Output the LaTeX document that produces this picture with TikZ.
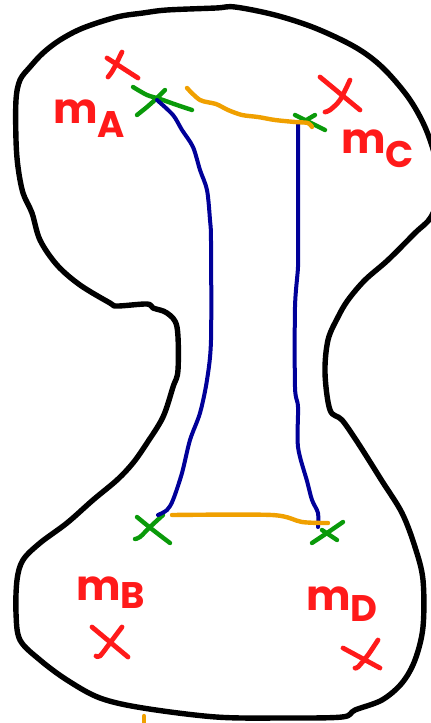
\documentclass[tikz,border=0pt]{standalone}
\usepackage{fontspec}
\usepackage{tikz}
\usetikzlibrary{positioning}
\newfontfamily\handfont{Poppins}
\definecolor{penred}{HTML}{FF1A1A}
\definecolor{pengreen}{HTML}{0A9A0A}
\definecolor{penblue}{HTML}{000099}
\definecolor{penorange}{HTML}{F0A000}
\newcommand{\mlab}[2]{m\raisebox{-#2}{\fontsize{37}{37}\selectfont #1}}

\begin{document}
\begin{tikzpicture}[
  x=1pt, y=-1pt,
  pen/.style={line cap=round, line join=round},
  outline/.style={pen, draw=black, line width=5.4pt},
  mass/.style={pen, draw=penred, line width=4.8pt},
  marker/.style={pen, draw=pengreen, line width=4.4pt},
  geod/.style={pen, draw=penblue, line width=4pt},
  bridge/.style={pen, draw=penorange, line width=4.4pt},
  masslabel/.style={anchor=base west, inner sep=0pt, text=penred, font=\handfont\bfseries\fontsize{42}{42}\selectfont},
]
  \useasboundingbox (0,0) rectangle (431,723);
  \clip (0,0) rectangle (431,723);

  % Outline
  \draw[outline] plot[smooth cycle, tension=0.55] coordinates {
    (143,13) (167,10) (216,8) (235,7) (275,15) (315,28) (355,47) (382,67)
    (408,97) (425,127) (436,160) (440,190) (431,217) (415,233) (388,260)
    (365,280) (348,300) (338,317) (328,340) (325,373) (330,410) (342,420)
    (358,443) (382,481) (402,513) (415,547) (423,580) (423,627) (415,660)
    (402,683) (382,700) (355,710) (342,717) (282,718) (216,717) (143,708)
    (100,698) (67,680) (40,660) (20,640) (16,613) (17,580) (23,560) (40,543)
    (67,523) (93,500) (117,480) (133,463) (147,443) (163,417) (173,387)
    (178,370) (177,327) (167,313) (153,308) (147,304) (117,306) (110,303)
    (80,285) (57,265) (40,240) (32,213) (23,193) (18,167) (16,140) (16,100)
    (20,80) (30,67) (43,53) (60,40) (83,28) (117,17)};
  \draw[bridge] (144,716) -- (144,723);

  % Masses
  \draw[mass] (107,58) -- (138,78);
  \draw[mass] plot[smooth] coordinates {(122,52) (113,70) (108,77)};
  \draw[mass] (320,77) -- (360,110);
  \draw[mass] plot[smooth] coordinates {(350,80) (340,100) (330,110) (325,112)};
  \draw[mass] (92,627) -- (128,657);
  \draw[mass] plot[smooth] coordinates {(122,627) (110,643) (100,656) (96,656)};
  \draw[mass] (343,648) -- (380,668);
  \draw[mass] plot[smooth] coordinates {(378,640) (368,655) (358,667) (355,668)};

  \node[masslabel] (mA) at (53,123) {\mlab{A}{14pt}};
  \node[masslabel] (mC) at (341,153) {\mlab{C}{14pt}};
  \node[masslabel] (mB) at (76,600) {\mlab{B}{8pt}};
  \node[masslabel] (mD) at (306,610) {\mlab{D}{11pt}};

  % Endpoints
  \coordinate (a) at (157,100);
  \coordinate (c) at (298,123);
  \coordinate (b) at (158,515);
  \coordinate (d) at (318,527);

  \draw[marker] plot[smooth] coordinates {(133,87) (147,95) (160,99) (177,105) (192,110)};
  \draw[marker] plot[smooth] coordinates {(165,90) (157,98) (147,107) (137,115)};
  \draw[marker] (295,115) -- (325,130);
  \draw[marker] (315,115) -- (303,122);
  \draw[marker] plot[smooth] coordinates {(137,517) (153,530) (170,543)};
  \draw[marker] plot[smooth] coordinates {(163,515) (150,527) (140,537) (135,539)};
  \draw[marker] plot[smooth] coordinates {(312,543) (327,533) (343,522)};
  \draw[marker] (322,530) -- (337,540);

  % Geodesics
  \draw[geod] plot[smooth, tension=0.5] coordinates {(a) (173,115) (182,130) (193,147)
    (200,170) (207,190) (210,220) (211,241) (211,340) (207,380) (200,413)
    (190,440) (182,473) (173,500) (167,510) (b)};
  \draw[geod] plot[smooth, tension=0.5] coordinates {(c) (298,240) (298,267) (295,307)
    (295,387) (298,407) (298,447) (307,481) (312,500) (318,513) (d)};

  % Bridges
  \draw[bridge] plot[smooth, tension=0.5] coordinates {(187,88) (200,100) (216,104)
    (228,110) (242,115) (258,117) (275,120) (295,122) (308,123) (312,127)};
  \draw[bridge] plot[smooth, tension=0.5] coordinates {(172,515) (272,515) (302,522) (328,523)};
\end{tikzpicture}
\end{document}
